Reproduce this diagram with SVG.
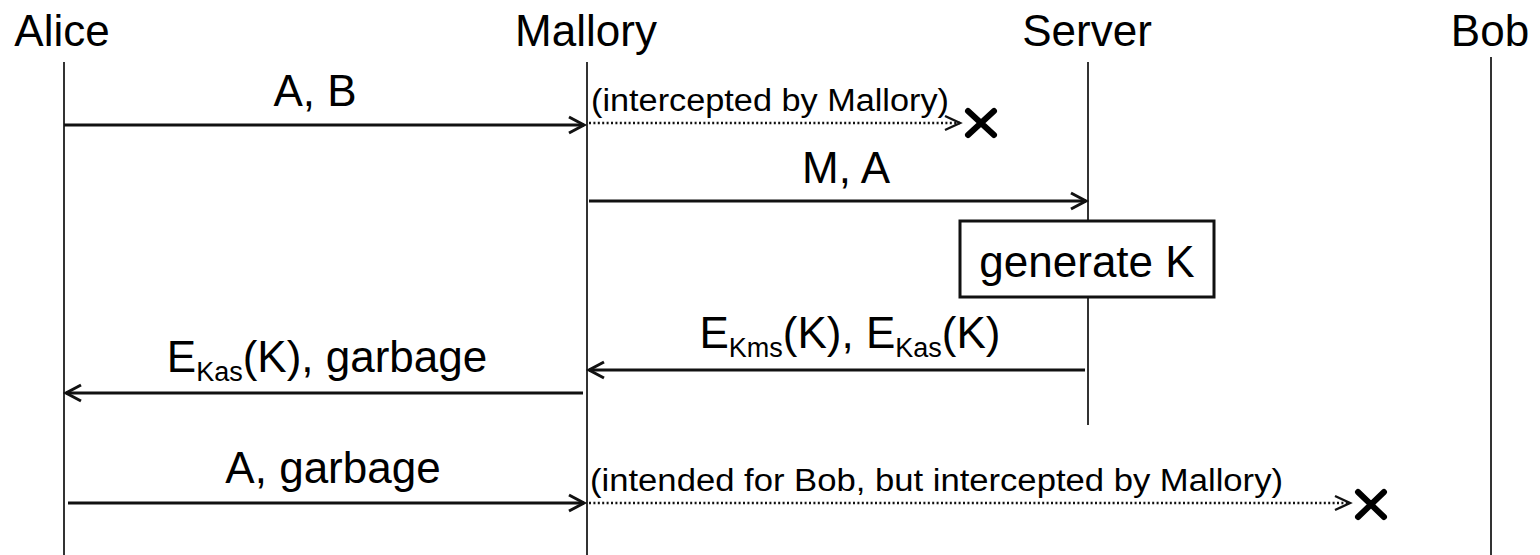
<svg xmlns="http://www.w3.org/2000/svg" width="1540" height="555" viewBox="0 0 1540 555">
  <style>
    .title { font-family: "Liberation Sans", Arial, sans-serif; font-size: 44px; fill: #000; }
    .label { font-family: "Liberation Sans", Arial, sans-serif; font-size: 44px; fill: #000; }
    .note { font-family: "Liberation Sans", Arial, sans-serif; font-size: 31px; fill: #000; }
    .sub { font-size: 27px; }
    .lifeline { stroke: #333; stroke-width: 2; fill: none; }
    .msg { stroke: #111; stroke-width: 3; fill: none; }
    .lost { stroke: #111; stroke-width: 2.6; stroke-dasharray: 2 2.4; fill: none; }
    .cross { stroke: #000; stroke-width: 6; stroke-linecap: round; fill: none; }
    .box { fill: #fff; stroke: #111; stroke-width: 3; }
  </style>
  <defs>
    <marker id="open" markerUnits="userSpaceOnUse" markerWidth="22" markerHeight="22" viewBox="-18 -11 22 22" refX="0" refY="0" orient="auto">
      <path d="M-15,-8 L0,0 L-15,8" fill="none" stroke="#111" stroke-width="3"/>
    </marker>
    <marker id="openThin" markerUnits="userSpaceOnUse" markerWidth="22" markerHeight="22" viewBox="-18 -11 22 22" refX="0" refY="0" orient="auto">
      <path d="M-15,-7 L0,0 L-15,7" fill="none" stroke="#111" stroke-width="2.4"/>
    </marker>
  </defs>

  <rect width="1540" height="555" fill="#fff"/>

  <!-- participants -->
  <g id="alice">
    <text class="title" x="62" y="46" text-anchor="middle">Alice</text>
    <line class="lifeline" x1="64" y1="62" x2="64" y2="555"/>
  </g>
  <g id="mallory">
    <text class="title" x="586" y="46" text-anchor="middle">Mallory</text>
    <line class="lifeline" x1="587" y1="62" x2="587" y2="555"/>
  </g>
  <g id="server">
    <text class="title" x="1087" y="46" text-anchor="middle">Server</text>
    <line class="lifeline" x1="1088" y1="62" x2="1088" y2="425"/>
  </g>
  <g id="bob">
    <text class="title" x="1490" y="46" text-anchor="middle">Bob</text>
    <line class="lifeline" x1="1491" y1="57" x2="1491" y2="555"/>
  </g>

  <!-- server activity -->
  <g id="generate-k">
    <rect class="box" x="960" y="221" width="254" height="76"/>
    <text class="label" x="1087" y="277" text-anchor="middle">generate K</text>
  </g>

  <!-- messages -->
  <g id="connectors">
    <line class="msg" x1="64" y1="125" x2="584" y2="125" marker-end="url(#open)"/>
    <line class="lost" x1="589" y1="123" x2="960" y2="123" marker-end="url(#openThin)"/>
    <line class="msg" x1="589" y1="201" x2="1086" y2="201" marker-end="url(#open)"/>
    <line class="msg" x1="1085" y1="370" x2="589" y2="370" marker-end="url(#open)"/>
    <line class="msg" x1="583" y1="393" x2="66" y2="393" marker-end="url(#open)"/>
    <line class="msg" x1="68" y1="503" x2="584" y2="503" marker-end="url(#open)"/>
    <line class="lost" x1="589" y1="503" x2="1350" y2="503" marker-end="url(#openThin)"/>
    <!-- lost-message terminators -->
    <path class="cross" d="M968,111 L994,135 M994,111 L968,135"/>
    <path class="cross" d="M1358,492 L1384,517 M1384,492 L1358,517"/>
  </g>

  <!-- message labels -->
  <g id="labels">
    <text class="label" x="315" y="106" text-anchor="middle">A, B</text>
    <text class="note" x="591" y="111" textLength="358" lengthAdjust="spacingAndGlyphs">(intercepted by Mallory)</text>
    <text class="label" x="846" y="183" text-anchor="middle">M, A</text>
    <text class="label" x="850" y="348" text-anchor="middle">E<tspan class="sub" dy="9">Kms</tspan><tspan dy="-9">(K), E</tspan><tspan class="sub" dy="9">Kas</tspan><tspan dy="-9">(K)</tspan></text>
    <text class="label" x="327" y="372" text-anchor="middle">E<tspan class="sub" dy="9">Kas</tspan><tspan dy="-9">(K), garbage</tspan></text>
    <text class="label" x="333" y="483" text-anchor="middle">A, garbage</text>
    <text class="note" x="590" y="491" textLength="693" lengthAdjust="spacingAndGlyphs">(intended for Bob, but intercepted by Mallory)</text>
  </g>
</svg>
